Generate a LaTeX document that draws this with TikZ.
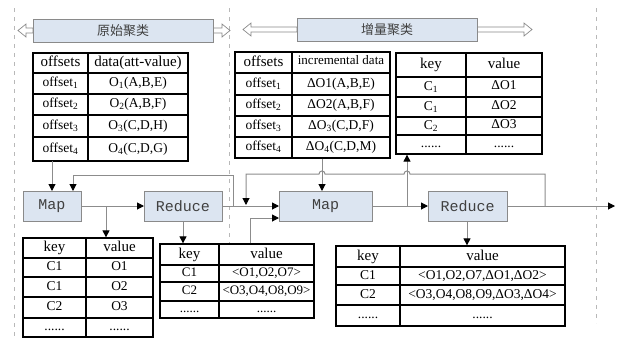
\documentclass[tikz,border=0pt]{standalone}
\usepackage{fontspec}
\setmainfont{Liberation Serif}
\newfontfamily\cjk{Noto Sans CJK SC}
\newfontfamily\monof{Liberation Mono}
\usetikzlibrary{arrows.meta}
\definecolor{boxfill}{HTML}{DCE5F1}
\definecolor{boxline}{HTML}{8A8A8A}
\definecolor{lnc}{HTML}{8C8C8C}
\definecolor{dashc}{HTML}{B8B8B8}
\tikzset{
 conn/.style={draw=lnc, line width=1pt, -{Triangle[length=7pt,width=7pt,color=black]}},
 lineonly/.style={draw=lnc, line width=1pt},
 proc/.style={draw=boxline, fill=boxfill, line width=0.8pt, minimum height=30pt, inner sep=0pt, text=black!75, font=\monof\fontsize{15}{18}\selectfont},
 banner/.style={draw=boxline, fill=boxfill, line width=0.8pt, minimum height=23pt, minimum width=180pt, inner sep=0pt, font=\cjk\fontsize{13}{16}\selectfont, text=black!75},
 tbox/.style={draw=black, line width=1.3pt, inner sep=0pt},
 tline/.style={draw=black, line width=1.3pt},
 hd/.style={inner sep=0pt, font=\fontsize{15}{18}\selectfont, text height=10.5pt, text depth=3.5pt},
 cl/.style={inner sep=0pt, font=\fontsize{13.5}{16}\selectfont, text height=9.5pt, text depth=3pt},
 divline/.style={draw=dashc, line width=0.8pt, dash pattern=on 4pt off 5pt},
 harrow/.style={draw=boxline, fill=white, line width=0.7pt},
}
\newcommand\hollowarrow[4]{%
 \begin{scope}[shift={(#1,#2)}, xscale=#4]
  \draw[harrow] (0,-2.5) -- ({#3-8},-2.5) -- ({#3-8},-6.5) -- (#3,0) -- ({#3-8},6.5) -- ({#3-8},2.5) -- (0,2.5) -- cycle;
 \end{scope}}
\newcommand\drawtable[7]{%
 \node[tbox, minimum width={(#3-#2)*1pt}, minimum height={(#6-#5)*1pt}] (#1) at ({(#2+#3)/2},{(#5+#6)/2}) {};
 \foreach \yy in {#7} {\draw[tline] (#2,\yy) -- (#3,\yy);}
 \draw[tline] (#4,#5) -- (#4,#6);}
\begin{document}
\begin{tikzpicture}[x=1pt,y=-1pt]
\useasboundingbox (0,0) rectangle (621,338);
\fill[white] (0,0) rectangle (621,338);

% dividers
\draw[divline] (14,8) -- (14,338);
\draw[divline] (229,8) -- (229,245);
\draw[divline] (596,8) -- (596,323);

% banners
\hollowarrow{33}{30.5}{15}{-1}
\hollowarrow{213}{30.5}{17}{1}
\node[banner] (b1) at (123,30.5) {原始聚类};
\hollowarrow{297}{29.5}{54}{-1}
\hollowarrow{477}{29.5}{55}{1}
\node[banner] (b2) at (387,29.5) {增量聚类};

% tables
\drawtable{t1}{33}{188}{88}{53}{161}{73,94,115,137}
\node[hd] at (60.5,63) {offsets}; \node[hd] at (138,63) {data(att-value)};
\node[cl] at (60.5,83.5) {offset\textsubscript{1}}; \node[cl] at (138,83.5) {O\textsubscript{1}(A,B,E)};
\node[cl] at (60.5,104.5) {offset\textsubscript{2}}; \node[cl] at (138,104.5) {O\textsubscript{2}(A,B,F)};
\node[cl] at (60.5,126) {offset\textsubscript{3}}; \node[cl] at (138,126) {O\textsubscript{3}(C,D,H)};
\node[cl] at (60.5,149) {offset\textsubscript{4}}; \node[cl] at (138,149) {O\textsubscript{4}(C,D,G)};

\drawtable{t2}{235}{390}{292}{52}{158}{73,95,116,137}
\node[hd] at (263.5,62.5) {offsets}; \node[cl, font=\fontsize{13}{16}\selectfont] at (341,61.5) {incremental data};
\node[cl] at (263.5,84) {offset\textsubscript{1}}; \node[cl] at (341,84) {ΔO1(A,B,E)};
\node[cl] at (263.5,105.5) {offset\textsubscript{2}}; \node[cl] at (341,105.5) {ΔO2(A,B,F)};
\node[cl] at (263.5,126.5) {offset\textsubscript{3}}; \node[cl] at (341,126.5) {ΔO\textsubscript{3}(C,D,F)};
\node[cl] at (263.5,147.5) {offset\textsubscript{4}}; \node[cl] at (341,147.5) {ΔO\textsubscript{4}(C,D,M)};

\drawtable{t3}{396}{542}{466}{53}{154}{77,97,117,135}
\node[hd] at (431,65) {key}; \node[hd] at (504,65) {value};
\node[cl] at (431,87) {C\textsubscript{1}}; \node[cl] at (504,86) {ΔO1};
\node[cl] at (431,107) {C\textsubscript{1}}; \node[cl] at (504,106) {ΔO2};
\node[cl] at (431,126) {C\textsubscript{2}}; \node[cl] at (504,125) {ΔO3};
\node[cl] at (431,144.5) {......}; \node[cl] at (504,144.5) {......};

\drawtable{t4}{23}{153}{86}{238}{337}{258,277,297,318}
\node[hd] at (54.5,248) {key}; \node[hd] at (119.5,248) {value};
\node[cl] at (54.5,267.5) {C1}; \node[cl] at (119.5,267.5) {O1};
\node[cl] at (54.5,287) {C1}; \node[cl] at (119.5,287) {O2};
\node[cl] at (54.5,307.5) {C2}; \node[cl] at (119.5,307.5) {O3};
\node[cl] at (54.5,327.5) {......}; \node[cl] at (119.5,327.5) {......};

\drawtable{t5}{160}{314}{219}{244}{318}{265,282,301}
\node[hd] at (189.5,254.5) {key}; \node[hd] at (266.5,254.5) {value};
\node[cl, font=\fontsize{13}{16}\selectfont] at (189.5,273.5) {C1}; \node[cl, font=\fontsize{13}{16}\selectfont] at (266.5,273.5) {<O1,O2,O7>};
\node[cl, font=\fontsize{13}{16}\selectfont] at (189.5,291.5) {C2}; \node[cl, font=\fontsize{13}{16}\selectfont] at (266.5,291.5) {<O3,O4,O8,O9>};
\node[cl, font=\fontsize{13}{16}\selectfont] at (189.5,309.5) {......}; \node[cl, font=\fontsize{13}{16}\selectfont] at (266.5,309.5) {......};

\drawtable{t6}{336}{565}{400}{246}{326}{267,285,305}
\node[hd] at (368,256.5) {key}; \node[hd] at (482.5,256.5) {value};
\node[cl] at (368,276) {C1}; \node[cl] at (482.5,276) {<O1,O2,O7,ΔO1,ΔO2>};
\node[cl] at (368,295) {C2}; \node[cl] at (482.5,295) {<O3,O4,O8,O9,ΔO3,ΔO4>};
\node[cl] at (368,315.5) {......}; \node[cl] at (482.5,315.5) {......};

% coordinates
\coordinate (j1) at (233,206);
\coordinate (f1) at (73,175);
\coordinate (j0) at (106,206);
\coordinate (c5) at (250,218);
\coordinate (j3) at (545,206);
\coordinate (f2) at (246,174);
\coordinate (j2) at (407,206);
\coordinate (x2) at (322,206);
\coordinate (r1d) at (183,206);
\coordinate (r2d) at (467,206);
\coordinate (endpt) at (615,206);

% connectors
\draw[conn] (j1) |- (f1) -- (f1 |- 0,191);
\draw[conn] (52,161) -- (52,191);
\draw[conn] (52,206) -- (144,206);
\draw[conn] (j0) -- (j0 |- t4.north);
\draw[conn] (222,206) -- (279,206);
\draw[conn] (r1d) -- (r1d |- t5.north);
\draw[conn] (c5 |- t5.north) -- (c5) -- (279,218);
\draw[conn] (j3) -- (545,174) -- (410,174) .. controls (410,170) and (404,170) .. (404,174)
  -- (325,174) .. controls (325,170) and (319,170) .. (319,174) -- (f2) -- (f2 |- 0,205);
\draw[conn] (x2 |- t2.south) -- (x2 |- 0,191);
\draw[conn] (j2) -- (j2 |- t3.south);
\draw[conn] (372,206) -- (428,206);
\draw[conn] (507,206) -- (endpt);
\draw[conn] (r2d) -- (r2d |- t6.north);

% process boxes
\node[proc, minimum width=58pt] (m1) at (52,206) {Map};
\node[proc, minimum width=78pt] (r1) at (183,206) {Reduce};
\node[proc, minimum width=93pt] (m2) at (325.5,206) {Map};
\node[proc, minimum width=79pt] (r2) at (467.5,206) {Reduce};
\end{tikzpicture}
\end{document}
